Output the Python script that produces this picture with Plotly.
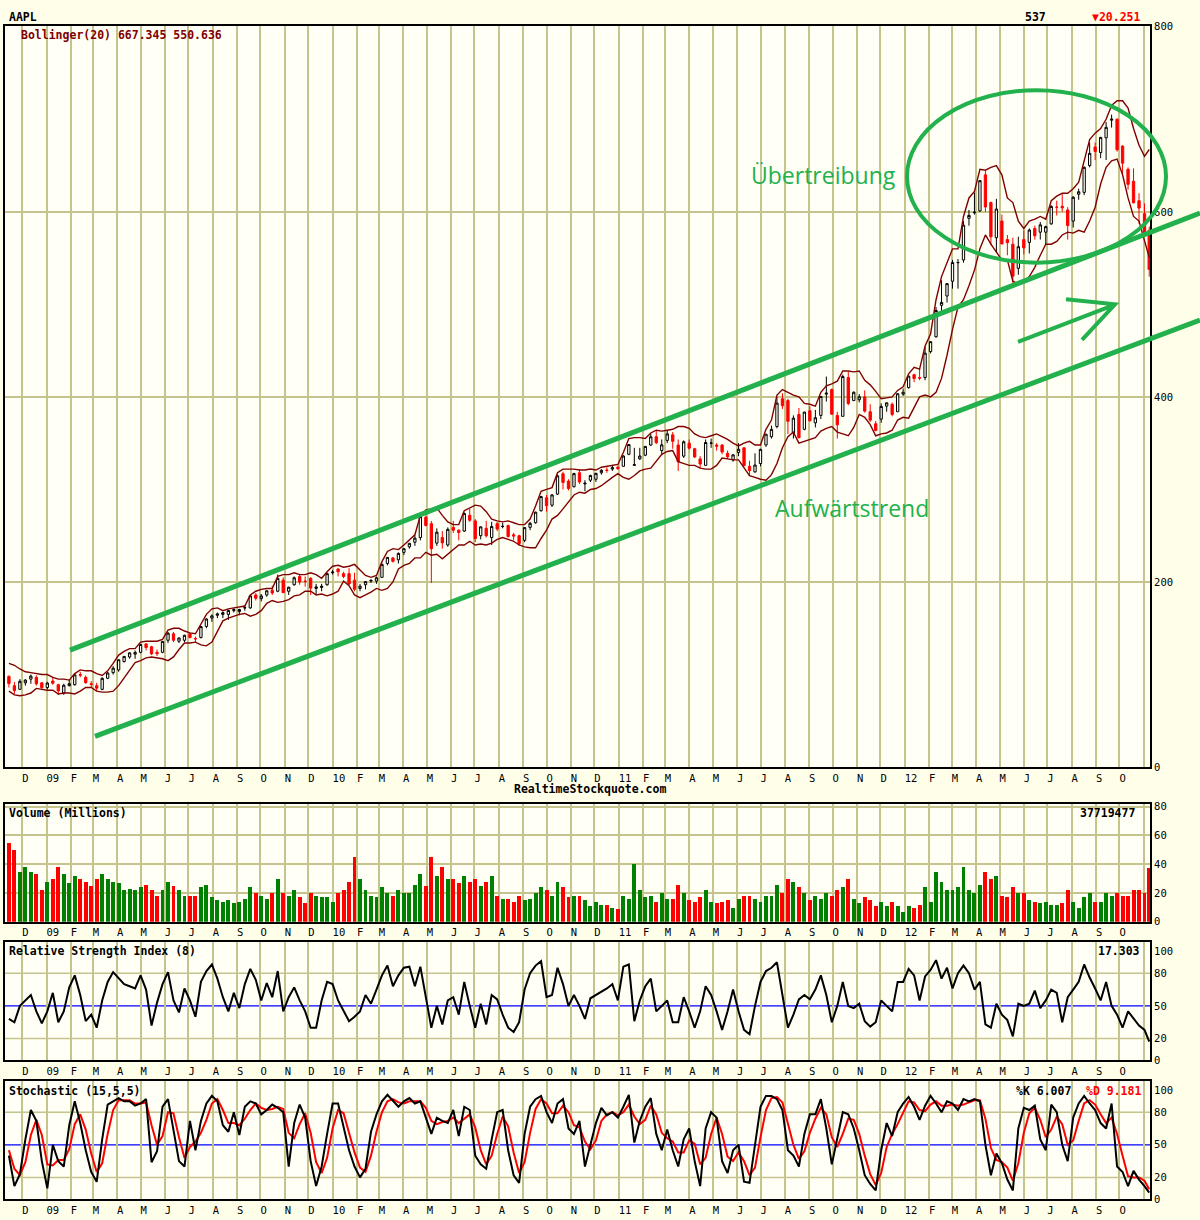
import plotly.graph_objects as go
import pandas as pd

W, HGT = 1200, 1220
def px(x): return x / W
def py(y): return 1 - y / HGT

# ---------------- data (weekly samples) ----------------
weeks = [d.strftime('%Y-%m-%d') for d in pd.date_range('2008-11-14', periods=209, freq='W-FRI')]
weeks[-1] = '2012-11-08'

OPEN = [98, 88, 84, 91, 95, 97, 91, 86, 93, 89,
        80, 88, 89, 100, 97, 90, 88, 84, 96, 102,
        105, 114, 119, 122, 124, 133, 130, 124, 124, 137,
        144, 136, 137, 144, 139, 140, 152, 161, 164, 165,
        165, 169, 168, 172, 172, 186, 182, 186, 191, 190,
        202, 190, 197, 206, 201, 204, 193, 194, 197, 210,
        214, 209, 209, 202, 193, 197, 201, 201, 205, 220,
        226, 224, 232, 238, 243, 248, 270, 263, 242, 248,
        240, 259, 256, 255, 272, 266, 250, 258, 248, 263,
        260, 261, 251, 250, 245, 259, 264, 277, 291, 283,
        295, 317, 309, 303, 318, 306, 310, 311, 318, 321,
        322, 324, 325, 338, 326, 333, 337, 348, 357, 342,
        353, 359, 348, 336, 350, 344, 333, 326, 350, 348,
        348, 339, 332, 340, 345, 325, 319, 328, 348, 357,
        368, 398, 396, 361, 381, 365, 385, 372, 380, 403,
        408, 380, 379, 421, 396, 397, 400, 384, 371, 376,
        390, 392, 384, 403, 410, 424, 421, 421, 449, 465,
        499, 509, 525, 545, 548, 593, 599, 601, 640, 610,
        572, 590, 570, 565, 539, 570, 567, 582, 578, 578,
        587, 605, 606, 602, 590, 619, 621, 650, 670, 664,
        680, 699, 700, 671, 646, 633, 612, 598, 580]

HIGH = [99, 92, 95, 95, 100, 99, 92, 92, 97, 90,
        90, 95, 100, 103, 99, 93, 91, 97, 103, 109,
        116, 120, 124, 126, 133, 134, 131, 127, 136, 146,
        146, 140, 143, 145, 141, 152, 161, 165, 167, 168,
        170, 172, 171, 175, 186, 188, 187, 191, 196, 208,
        205, 195, 206, 208, 206, 205, 198, 198, 210, 213,
        215, 211, 215, 210, 198, 201, 203, 206, 220, 227,
        227, 232, 236, 242, 251, 273, 272, 266, 258, 255,
        259, 266, 257, 275, 279, 268, 260, 266, 265, 265,
        264, 262, 253, 251, 259, 265, 276, 293, 294, 295,
        316, 319, 311, 318, 322, 310, 316, 318, 322, 324,
        326, 326, 337, 349, 345, 345, 347, 360, 364, 354,
        364, 362, 354, 353, 354, 345, 336, 354, 355, 350,
        349, 342, 338, 350, 345, 331, 339, 344, 360, 369,
        400, 404, 398, 380, 388, 384, 390, 386, 401, 422,
        409, 384, 424, 427, 406, 403, 407, 392, 374, 393,
        394, 394, 404, 409, 423, 425, 431, 454, 460, 497,
        526, 523, 548, 549, 590, 602, 621, 634, 644, 611,
        614, 597, 575, 572, 573, 580, 582, 585, 589, 585,
        607, 612, 619, 605, 617, 625, 649, 675, 675, 681,
        697, 705, 701, 672, 648, 647, 620, 609, 584]

LOW = [86, 79, 84, 88, 90, 88, 84, 84, 89, 78,
       78, 87, 88, 97, 90, 86, 82, 83, 95, 100,
       103, 113, 117, 117, 123, 126, 121, 120, 123, 134,
       135, 134, 135, 139, 135, 139, 150, 157, 161, 161,
       159, 167, 164, 169, 171, 180, 179, 184, 186, 189,
       188, 186, 196, 197, 195, 186, 187, 190, 196, 208,
       206, 204, 197, 190, 190, 192, 199, 198, 205, 218,
       221, 220, 229, 236, 239, 245, 260, 199, 239, 236,
       238, 253, 245, 254, 265, 243, 246, 248, 240, 255,
       258, 248, 245, 239, 243, 256, 263, 276, 276, 281,
       294, 300, 299, 302, 306, 298, 308, 308, 316, 318,
       320, 321, 325, 337, 326, 332, 336, 347, 349, 337,
       350, 344, 320, 334, 343, 334, 323, 326, 345, 342,
       338, 333, 330, 336, 325, 315, 318, 325, 346, 355,
       366, 387, 360, 355, 355, 364, 374, 367, 376, 395,
       381, 355, 379, 391, 396, 394, 383, 373, 363, 372,
       384, 379, 384, 401, 409, 416, 418, 418, 447, 464,
       492, 502, 517, 517, 545, 585, 597, 600, 600, 564,
       556, 565, 553, 523, 532, 554, 555, 570, 570, 565,
       586, 596, 600, 570, 583, 613, 618, 648, 656, 658,
       656, 691, 665, 641, 624, 609, 587, 575, 530]

CLOSE = [90.2, 82.6, 92.7, 94.0, 98.3, 90.0, 85.8, 90.8, 90.6, 82.3,
         88.4, 90.1, 99.7, 99.3, 91.2, 89.3, 85.3, 95.9, 101.6, 106.9,
         116.0, 119.6, 123.4, 123.9, 132.5, 129.2, 122.4, 122.5, 135.8, 144.7,
         137.0, 139.5, 142.4, 140.0, 138.5, 151.8, 160.0, 163.4, 165.5, 166.8,
         169.2, 170.1, 170.3, 172.2, 185.0, 182.4, 184.9, 190.5, 188.1, 203.9,
         188.5, 194.3, 204.5, 199.9, 200.6, 193.3, 194.7, 195.4, 209.0, 210.7,
         211.0, 205.9, 197.8, 192.1, 195.5, 200.4, 201.7, 204.6, 219.0, 226.6,
         222.3, 230.9, 236.0, 241.8, 247.4, 270.8, 261.1, 235.9, 253.8, 242.3,
         256.9, 256.0, 253.5, 274.1, 266.7, 246.9, 259.6, 249.9, 259.9, 257.3,
         260.1, 249.1, 249.6, 241.6, 258.8, 263.4, 275.4, 292.3, 282.5, 294.1,
         314.7, 307.5, 301.0, 317.1, 308.0, 306.7, 315.0, 317.4, 320.6, 320.6,
         323.6, 322.6, 336.1, 348.5, 326.7, 336.1, 346.5, 356.9, 350.6, 348.2,
         360.0, 352.0, 330.0, 351.5, 344.6, 335.1, 327.5, 350.7, 350.1, 346.7,
         340.5, 335.2, 337.4, 343.4, 325.9, 320.3, 326.4, 343.3, 359.7, 364.9,
         393.3, 390.5, 373.6, 377.0, 356.0, 383.6, 374.1, 377.5, 400.5, 404.0,
         381.3, 369.8, 422.0, 392.9, 405.0, 400.2, 384.6, 374.9, 363.6, 389.7,
         393.6, 381.0, 403.4, 405.0, 422.4, 419.8, 420.3, 447.3, 459.7, 493.4,
         502.1, 522.4, 545.2, 545.2, 585.6, 596.1, 599.6, 633.7, 605.2, 573.0,
         603.0, 565.3, 566.7, 530.4, 562.3, 561.0, 580.3, 574.1, 585.9, 584.0,
         605.9, 605.0, 604.3, 585.2, 615.7, 621.7, 648.1, 663.2, 665.2, 680.4,
         691.3, 700.1, 667.1, 652.6, 629.7, 609.8, 604.0, 576.8, 537.8]

BB_UPPER = [112, 110, 106, 103, 102, 101, 100, 100, 97, 95,
            95, 94, 101, 105, 104, 104, 101, 99, 104, 112,
            121, 125, 128, 128, 135, 136, 136, 136, 138, 148,
            150, 150, 147, 145, 144, 154, 165, 171, 172, 169,
            171, 172, 173, 174, 186, 190, 192, 193, 193, 206,
            208, 208, 210, 208, 208, 210, 208, 204, 211, 217,
            218, 216, 217, 219, 213, 207, 205, 207, 222, 233,
            236, 235, 240, 245, 251, 272, 278, 279, 280, 272,
            265, 262, 262, 277, 280, 283, 282, 276, 268, 266,
            265, 266, 264, 262, 262, 268, 282, 298, 300, 302,
            318, 322, 322, 322, 321, 321, 322, 321, 324, 325,
            326, 327, 340, 355, 356, 356, 355, 361, 364, 363,
            364, 365, 368, 368, 366, 360, 357, 356, 358, 360,
            357, 354, 350, 347, 350, 352, 348, 348, 365, 375,
            402, 408, 405, 402, 400, 393, 392, 390, 405, 412,
            414, 417, 428, 428, 427, 428, 418, 413, 406, 398,
            399, 400, 407, 411, 425, 432, 430, 455, 468, 505,
            530, 545, 560, 560, 595, 615, 622, 646, 645, 648,
            650, 640, 615, 610, 590, 582, 590, 592, 595, 592,
            612, 617, 620, 620, 625, 632, 655, 678, 685, 690,
            700, 715, 720, 720, 712, 690, 672, 660, 667.345]

BB_LOWER = [82, 78, 77, 78, 80, 85, 84, 83, 83, 79,
            80, 80, 79, 82, 86, 86, 82, 81, 81, 82,
            88, 96, 104, 113, 115, 118, 119, 118, 117, 115,
            119, 127, 134, 134, 135, 132, 131, 135, 147, 158,
            161, 163, 165, 166, 163, 165, 169, 177, 180, 178,
            179, 181, 185, 186, 190, 190, 186, 187, 185, 187,
            190, 201, 196, 186, 183, 186, 189, 193, 191, 193,
            200, 214, 218, 220, 226, 226, 232, 229, 230, 225,
            230, 236, 240, 240, 244, 240, 241, 240, 242, 246,
            248, 246, 244, 240, 238, 237, 237, 247, 256, 268,
            272, 279, 287, 294, 297, 296, 300, 301, 304, 309,
            313, 317, 313, 311, 315, 320, 322, 323, 330, 338,
            341, 342, 330, 328, 326, 326, 323, 322, 322, 326,
            334, 333, 332, 332, 324, 315, 313, 311, 310, 316,
            328, 345, 357, 362, 350, 352, 354, 356, 363, 366,
            368, 362, 360, 358, 367, 381, 378, 370, 358, 360,
            361, 364, 375, 378, 377, 388, 400, 402, 400, 405,
            420, 445, 473, 497, 505, 520, 537, 560, 575, 565,
            556, 548, 548, 525, 522, 525, 530, 540, 553, 565,
            565, 568, 575, 578, 577, 580, 578, 590, 605, 630,
            648, 655, 657, 640, 615, 595, 590, 570, 550.636]

VOLUME = [55, 50, 35, 38, 35, 33, 22, 28, 30, 38,
          33, 27, 32, 30, 28, 25, 30, 33, 30, 28,
          27, 22, 23, 22, 24, 26, 22, 18, 22, 28,
          25, 22, 18, 18, 18, 24, 26, 17, 15, 14,
          15, 13, 14, 16, 24, 20, 18, 16, 20, 30,
          20, 18, 22, 17, 13, 20, 18, 17, 17, 14,
          20, 22, 28, 45, 30, 22, 18, 17, 24, 20,
          18, 22, 20, 20, 26, 33, 25, 45, 32, 38,
          30, 30, 27, 32, 28, 30, 25, 28, 32, 18,
          16, 16, 14, 18, 15, 16, 20, 24, 22, 18,
          28, 24, 17, 18, 18, 15, 11, 14, 12, 12,
          10, 9, 18, 16, 40, 22, 17, 18, 14, 20,
          16, 16, 26, 20, 15, 14, 17, 22, 14, 13,
          14, 15, 10, 16, 18, 18, 16, 14, 18, 18,
          26, 20, 30, 28, 24, 20, 15, 18, 16, 20,
          18, 22, 24, 30, 16, 13, 17, 15, 11, 14,
          11, 14, 11, 7, 11, 10, 12, 24, 14, 35,
          28, 22, 22, 24, 38, 22, 20, 26, 35, 30,
          32, 18, 17, 24, 20, 20, 15, 14, 13, 14,
          12, 12, 13, 22, 14, 10, 17, 20, 14, 14,
          20, 18, 20, 18, 18, 22, 22, 20, 37.7]

RSI = [38, 35, 50, 55, 60, 45, 34, 45, 62, 35,
       45, 67, 78, 60, 36, 42, 30, 55, 72, 81,
       75, 70, 68, 66, 78, 65, 32, 53, 70, 81,
       55, 44, 66, 55, 40, 72, 82, 88, 75, 58,
       45, 62, 48, 70, 84, 74, 55, 71, 58, 82,
       45, 58, 67, 55, 45, 30, 30, 55, 72, 70,
       55, 45, 36, 40, 45, 60, 52, 65, 78, 87,
       68, 78, 85, 86, 68, 86, 58, 30, 50, 33,
       55, 58, 42, 72, 50, 30, 52, 33, 60, 56,
       42, 30, 26, 35, 65, 80, 87, 91, 58, 60,
       85, 70, 50, 60, 50, 38, 57, 60, 63, 66,
       70, 55, 86, 88, 36, 55, 68, 75, 45, 50,
       55, 35, 35, 58, 45, 30, 45, 68, 60, 45,
       28, 45, 65, 45, 28, 24, 50, 72, 82, 85,
       90, 60, 30, 42, 56, 60, 56, 65, 78, 60,
       35, 50, 72, 50, 48, 52, 36, 31, 35, 55,
       50, 45, 72, 72, 84, 78, 55, 77, 83, 92,
       75, 85, 66, 80, 87, 80, 65, 72, 33, 30,
       52, 42, 37, 22, 52, 50, 52, 64, 48, 55,
       65, 62, 35, 58, 65, 72, 88, 76, 66, 55,
       72, 50, 42, 30, 45, 38, 32, 28, 17.303]

STOCH_K = [40, 12, 23, 55, 82, 72, 35, 10, 50, 35,
           30, 68, 90, 70, 45, 25, 16, 55, 87, 90,
           93, 90, 90, 86, 88, 92, 34, 44, 85, 92,
           62, 35, 30, 72, 45, 72, 88, 95, 90, 68,
           62, 80, 59, 85, 90, 88, 78, 82, 87, 84,
           80, 30, 70, 87, 75, 35, 12, 30, 60, 88,
           88, 65, 45, 30, 20, 28, 62, 78, 90, 96,
           90, 85, 90, 93, 88, 90, 75, 60, 75, 72,
           70, 82, 58, 85, 82, 40, 32, 28, 55, 80,
           82, 45, 22, 15, 60, 85, 92, 95, 80, 70,
           88, 92, 65, 60, 72, 30, 50, 70, 84, 77,
           80, 75, 85, 96, 52, 72, 85, 93, 60, 45,
           64, 45, 30, 55, 65, 35, 12, 65, 80, 75,
           35, 24, 45, 50, 16, 15, 50, 85, 95, 95,
           92, 82, 45, 40, 30, 60, 78, 78, 92, 65,
           32, 55, 80, 78, 65, 45, 22, 14, 8, 45,
           70, 58, 80, 88, 94, 85, 73, 86, 95, 88,
           80, 90, 88, 82, 92, 90, 92, 90, 50, 22,
           42, 33, 18, 8, 65, 84, 82, 86, 55, 45,
           87, 80, 50, 35, 75, 88, 95, 88, 82, 70,
           65, 88, 30, 25, 12, 26, 18, 12, 6.007]

STOCH_D = [45, 28, 22, 34, 59, 73, 59, 32, 31, 36,
           36, 46, 69, 78, 64, 42, 25, 33, 60, 82,
           91, 91, 91, 88, 88, 89, 68, 50, 58, 80,
           79, 57, 38, 48, 53, 61, 73, 88, 92, 82,
           70, 70, 68, 74, 82, 88, 84, 82, 83, 85,
           83, 61, 56, 69, 79, 61, 34, 24, 38, 65,
           82, 79, 62, 43, 29, 25, 40, 62, 80, 90,
           92, 89, 88, 90, 90, 90, 84, 72, 69, 71,
           72, 75, 70, 74, 78, 66, 45, 32, 40, 60,
           76, 67, 43, 24, 34, 61, 83, 92, 88, 79,
           79, 86, 80, 68, 66, 53, 46, 54, 72, 78,
           80, 77, 80, 87, 76, 69, 73, 86, 78, 61,
           56, 53, 43, 43, 54, 51, 32, 38, 60, 75,
           60, 39, 35, 43, 35, 22, 29, 57, 82, 93,
           94, 89, 69, 50, 37, 44, 61, 74, 84, 78,
           57, 48, 60, 74, 73, 60, 40, 23, 13, 24,
           48, 60, 69, 79, 90, 89, 82, 81, 87, 90,
           86, 86, 87, 86, 87, 89, 91, 91, 74, 47,
           36, 34, 29, 17, 33, 61, 79, 84, 73, 57,
           64, 76, 69, 50, 54, 72, 88, 91, 87, 78,
           70, 75, 60, 40, 21, 20, 20, 17, 9.181]

for name, arr in [('OPEN', OPEN), ('HIGH', HIGH), ('LOW', LOW), ('CLOSE', CLOSE),
                  ('BB_UPPER', BB_UPPER), ('BB_LOWER', BB_LOWER), ('VOLUME', VOLUME),
                  ('RSI', RSI), ('STOCH_K', STOCH_K), ('STOCH_D', STOCH_D)]:
    assert len(arr) == len(weeks), (name, len(arr))

MONTH_LETTERS = ['J', 'F', 'M', 'A', 'M', 'J', 'J', 'A', 'S', 'O', 'N', 'D']
month_starts = pd.date_range('2008-12-01', '2012-11-01', freq='MS')
month_vals = [d.strftime('%Y-%m-%d') for d in month_starts]
month_text = []
for d in month_starts:
    lab = f"{d.year % 100:02d}" if d.month == 1 else MONTH_LETTERS[d.month - 1]
    month_text.append('\u00a0' * len(lab) + lab)
month_text[-1] = ''

# ---------------- styling ----------------
GRID = '#c4c48c'
MONO = 'DejaVu Sans Mono'
GREEN = '#22b14c'
XRANGE = ['2008-11-09', '2012-11-09']

fig = go.Figure()

fig.add_trace(go.Scatter(x=weeks, y=BB_UPPER, mode='lines', line=dict(color='#800000', width=1.4),
                         xaxis='x', yaxis='y', hoverinfo='skip'))
fig.add_trace(go.Scatter(x=weeks, y=BB_LOWER, mode='lines', line=dict(color='#800000', width=1.4),
                         xaxis='x', yaxis='y', hoverinfo='skip'))
fig.add_trace(go.Candlestick(x=weeks, open=OPEN, high=HIGH, low=LOW, close=CLOSE,
                             increasing=dict(line=dict(color='black', width=1), fillcolor='#fffff6'),
                             decreasing=dict(line=dict(color='#ff0000', width=1), fillcolor='#ff0000'),
                             whiskerwidth=0, xaxis='x', yaxis='y'))

vol_colors = ['#008000' if c >= o else '#ff0000' for o, c in zip(OPEN, CLOSE)]
fig.add_trace(go.Bar(x=weeks, y=VOLUME, marker=dict(color=vol_colors, line=dict(width=0)),
                     width=5 * 86400000, xaxis='x2', yaxis='y2'))

fig.add_trace(go.Scatter(x=weeks, y=RSI, mode='lines', line=dict(color='black', width=2),
                         xaxis='x3', yaxis='y3'))
fig.add_trace(go.Scatter(x=weeks, y=STOCH_D, mode='lines', line=dict(color='#ff0000', width=2),
                         xaxis='x4', yaxis='y4'))
fig.add_trace(go.Scatter(x=weeks, y=STOCH_K, mode='lines', line=dict(color='black', width=2),
                         xaxis='x4', yaxis='y4'))


def xaxis(anchor):
    return dict(domain=[px(5), px(1150)], anchor=anchor, type='date', range=XRANGE,
                tickmode='array', tickvals=month_vals, ticktext=month_text, tickangle=0,
                showgrid=True, gridcolor=GRID, gridwidth=1.5, showline=True, mirror=True,
                linecolor='black', linewidth=2, ticks='', zeroline=False, fixedrange=True,
                tickfont=dict(family=MONO, size=10.5, color='black'),
                rangeslider=dict(visible=False))


def yaxis(anchor, top, bottom, rng, ticks, grid=True):
    return dict(domain=[py(bottom), py(top)], anchor=anchor, side='right', range=rng,
                tickmode='array', tickvals=ticks, showgrid=grid, gridcolor=GRID, gridwidth=1.5,
                showline=True, mirror=True, linecolor='black', linewidth=2, ticks='',
                zeroline=False, fixedrange=True,
                tickfont=dict(family=MONO, size=10.5, color='black'))


fig.update_layout(
    width=W, height=HGT, margin=dict(l=0, r=0, t=0, b=0),
    paper_bgcolor='#fffee8', plot_bgcolor='#fffff6', showlegend=False,
    xaxis=xaxis('y'), xaxis2=xaxis('y2'), xaxis3=xaxis('y3'), xaxis4=xaxis('y4'),
    yaxis=yaxis('x', 21, 769, [0, 801], [0, 200, 400, 600, 800]),
    yaxis2=yaxis('x2', 806, 925, [0, 82], [0, 20, 40, 60, 80]),
    yaxis3=yaxis('x3', 946, 1065, [0, 108.2], [0, 20, 50, 80, 100], grid=False),
    yaxis4=yaxis('x4', 1086, 1205, [0, 108.5], [0, 20, 50, 80, 100], grid=False),
    bargap=0,
)

shapes = []
for xr, yr in [('x3 domain', 'y3'), ('x4 domain', 'y4')]:
    for lvl in (20, 80):
        shapes.append(dict(type='line', xref=xr, yref=yr, x0=0, x1=1, y0=lvl, y1=lvl,
                           line=dict(color=GRID, width=1.5), layer='below'))
    shapes.append(dict(type='line', xref=xr, yref=yr, x0=0, x1=1, y0=50, y1=50,
                       line=dict(color='#0000ff', width=1.2), layer='below'))

# hand-drawn green annotations (paper coordinates)
shapes.append(dict(type='line', xref='paper', yref='paper', x0=px(70), y0=py(651), x1=px(1200), y1=py(210),
                   line=dict(color=GREEN, width=5)))
shapes.append(dict(type='line', xref='paper', yref='paper', x0=px(95), y0=py(738), x1=px(1200), y1=py(318),
                   line=dict(color=GREEN, width=5)))
shapes.append(dict(type='circle', xref='paper', yref='paper', x0=px(907), x1=px(1166), y0=py(260), y1=py(86),
                   line=dict(color=GREEN, width=4)))
arrow = (f"M {px(1018)},{py(340)} L {px(1113)},{py(303)} "
         f"M {px(1066)},{py(297)} L {px(1115)},{py(302)} L {px(1082)},{py(338)}")
shapes.append(dict(type='path', xref='paper', yref='paper', path=arrow, line=dict(color=GREEN, width=4)))
fig.update_layout(shapes=shapes)


def label(text, x, y, anchor='left', color='black', size=11.5, family=MONO, bold=True):
    fig.add_annotation(text=f"<b>{text}</b>" if bold else text, xref='paper', yref='paper',
                       x=px(x), y=py(y), xanchor=anchor, yanchor='middle', showarrow=False,
                       font=dict(family=family, size=size, color=color))


label('AAPL', 7, 12)
label('537', 1035, 12, anchor='center')
label('▼20.251', 1116, 12, anchor='center', color='#ff0000')
label('Bollinger(20) 667.345 550.636', 19, 30, color='#800000')
label('RealtimeStockquote.com', 590, 791, anchor='center')
label('Volume (Millions)', 7, 815)
label('37719477', 1137, 815, anchor='right')
label('Relative Strength Index (8)', 7, 955)
label('17.303', 1142, 955, anchor='right')
label('Stochastic (15,5,5)', 7, 1096)
label('%K 6.007', 1014, 1096)
label('%D 9.181', 1084, 1096, color='#ff0000')
label('Übertreibung', 823, 172, anchor='center', color=GREEN, size=23, family='Open Sans', bold=False)
label('Aufwärtstrend', 852, 508, anchor='center', color=GREEN, size=23, family='Open Sans', bold=False)

fig.write_html('out.html', config={'displayModeBar': False},
               post_script="document.body.style.margin='0';document.body.style.overflow='hidden';")
